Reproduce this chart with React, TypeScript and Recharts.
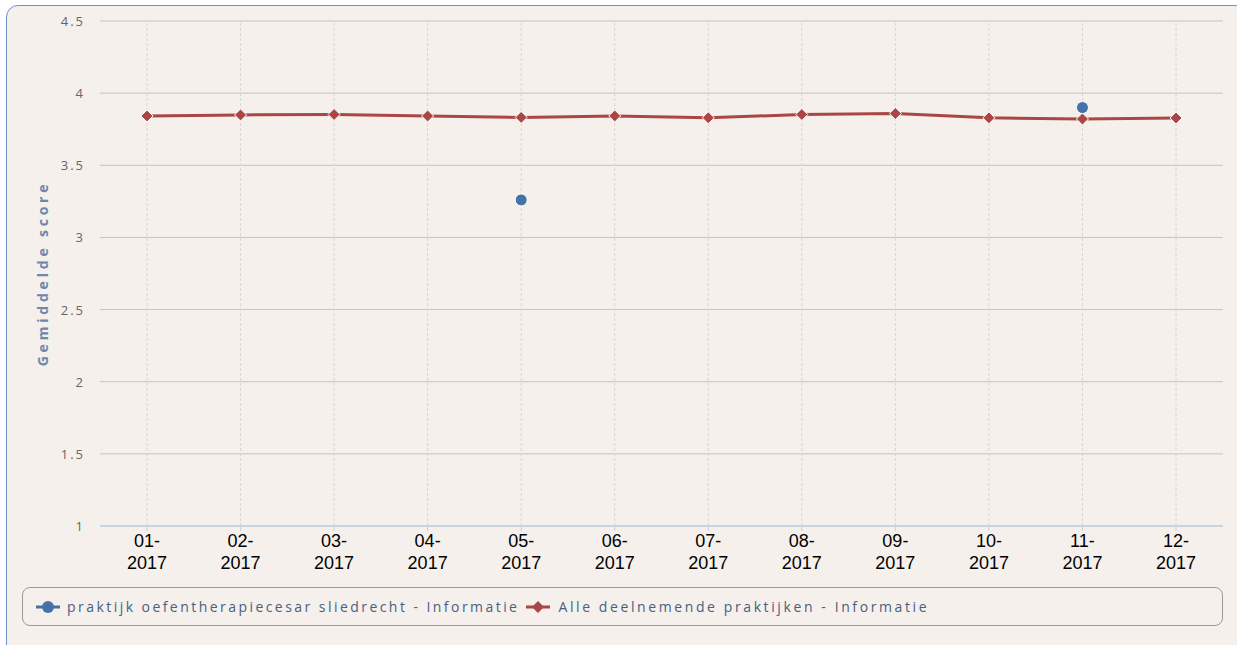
import React from 'react';
import { LineChart, Line, XAxis, YAxis, CartesianGrid, Label, ReferenceLine } from 'recharts';

const months = ['01-2017', '02-2017', '03-2017', '04-2017', '05-2017', '06-2017', '07-2017', '08-2017', '09-2017', '10-2017', '11-2017', '12-2017'];
const praktijkScores = [null, null, null, null, 3.26, null, null, null, null, null, 3.9, null];
const alleScores = [3.842, 3.849, 3.852, 3.842, 3.832, 3.842, 3.829, 3.852, 3.859, 3.829, 3.821, 3.828];
const yTicks = [1, 1.5, 2, 2.5, 3, 3.5, 4, 4.5];
const seriesNames = ['praktijk oefentherapiecesar sliedrecht - Informatie', 'Alle deelnemende praktijken - Informatie'];

const BLUE = '#4572A7';
const RED = '#AA4643';
const FONT = '"Open Sans", "DejaVu Sans", sans-serif';

const data = months.map((m, i) => ({ month: m, praktijk: praktijkScores[i], alle: alleScores[i] }));

const MonthTick = (props: any) => {
  const { x, y, payload } = props;
  const [mm, yy] = String(payload.value).split('-');
  return (
    <text x={x} y={y} textAnchor="middle" fill="#000" fontSize={18} fontFamily='"Liberation Sans", Arial, sans-serif'>
      <tspan x={x} dy={14}>{mm}-</tspan>
      <tspan x={x} dy={22}>{yy}</tspan>
    </text>
  );
};

const ScoreTick = (props: any) => {
  const { x, y, payload } = props;
  return (
    <text x={x} y={y} dy={5} textAnchor="end" fill="#666" fontSize={13} fontFamily={FONT} style={{ letterSpacing: 2 }}>
      {payload.value}
    </text>
  );
};

const Diamond = (props: any) => {
  const { cx, cy } = props;
  if (cx == null || cy == null) return null;
  const r = 6;
  return <polygon points={`${cx},${cy - r} ${cx + r},${cy} ${cx},${cy + r} ${cx - r},${cy}`} fill={RED} stroke="#fff" strokeWidth={1} />;
};

const Dot = (props: any) => {
  const { cx, cy, value } = props;
  if (cx == null || cy == null || value == null) return null;
  return <circle cx={cx} cy={cy} r={6} fill={BLUE} stroke="#fff" strokeWidth={1} />;
};

const AxisTitle = (props: any) => {
  const { viewBox } = props;
  const cx = viewBox.x + 42;
  const cy = viewBox.y + viewBox.height / 2;
  return (
    <text x={cx} y={cy} transform={`rotate(-90 ${cx} ${cy})`} textAnchor="middle" dominantBaseline="central"
      fill="#6E88AC" fontSize={14} fontWeight="bold" fontFamily={FONT} style={{ letterSpacing: 3.8 }}>
      Gemiddelde score
    </text>
  );
};

export default function App() {
  return (
    <div style={{ position: 'absolute', left: 0, top: 0, width: 1237, height: 645, overflow: 'hidden', background: '#fff' }}>
      <div style={{ position: 'absolute', left: 6, top: 5, width: 1240, height: 660, border: '1.5px solid #6D93C6', borderRadius: 12, background: '#F5F0EC' }} />
      <div style={{ position: 'absolute', left: 0, top: 0 }}>
        <LineChart width={1237} height={645} data={data} margin={{ top: 21, right: 14, bottom: 0, left: 0 }}>
          <CartesianGrid horizontal vertical={false} stroke="#C4C4C4" />
          {months.map((m) => (
            <ReferenceLine key={m} x={m} stroke="#D6D6D6" strokeDasharray="3 2" />
          ))}
          <XAxis dataKey="month" height={119} tick={<MonthTick />} tickLine={{ stroke: '#C0D0E0' }} tickSize={5}
            axisLine={{ stroke: '#C0D0E0', strokeWidth: 1.5 }} interval={0} padding={{ left: 47, right: 47 }} />
          <YAxis width={100} domain={[1, 4.5]} ticks={yTicks} tick={<ScoreTick />} tickLine={false} axisLine={false} tickMargin={9}>
            <Label content={<AxisTitle />} />
          </YAxis>
          <Line dataKey="alle" stroke={RED} strokeWidth={3} dot={<Diamond />} activeDot={false} isAnimationActive={false} />
          <Line dataKey="praktijk" stroke={BLUE} strokeWidth={3} dot={<Dot />} activeDot={false} connectNulls={false} isAnimationActive={false} />
        </LineChart>
      </div>
      <div style={{ position: 'absolute', left: 22, top: 587, width: 1187, height: 37, border: '1.5px solid #9A9A9A', borderRadius: 8,
        display: 'flex', alignItems: 'center', paddingLeft: 12, boxSizing: 'content-box', fontFamily: FONT, fontSize: 14, color: '#4A5F7E', letterSpacing: 2.45, whiteSpace: 'nowrap' }}>
        <svg width={26} height={14} style={{ marginRight: 6 }}>
          <line x1={1} y1={7} x2={25} y2={7} stroke={BLUE} strokeWidth={3} />
          <circle cx={13} cy={7} r={6} fill={BLUE} />
        </svg>
        <span>{seriesNames[0]}</span>
        <svg width={26} height={14} style={{ marginLeft: 6, marginRight: 7 }}>
          <line x1={1} y1={7} x2={25} y2={7} stroke={RED} strokeWidth={3} />
          <polygon points="13,1 19,7 13,13 7,7" fill={RED} />
        </svg>
        <span style={{ letterSpacing: 2.6 }}>{seriesNames[1]}</span>
      </div>
    </div>
  );
}
